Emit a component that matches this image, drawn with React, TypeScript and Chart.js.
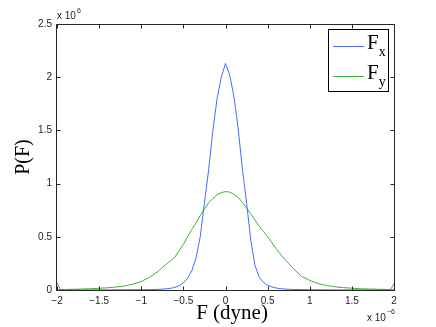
import React, { useEffect, useRef } from "react";
import { Chart, registerables } from "chart.js";

Chart.register(...registerables);

// F values (units of 1e-6 dyne)
const forceValues = [
  -2, -1.96, -1.9, -1.8, -1.7, -1.6, -1.5, -1.4, -1.3, -1.2, -1.1, -1.0, -0.9, -0.8,
  -0.75, -0.7, -0.65, -0.6, -0.55, -0.5, -0.45, -0.4, -0.35, -0.3, -0.25, -0.2, -0.15, -0.1, -0.05,
  0,
  0.05, 0.1, 0.15, 0.2, 0.25, 0.3, 0.35, 0.4, 0.45, 0.5, 0.55, 0.6, 0.65, 0.7, 0.75,
  0.8, 0.9, 1.0, 1.1, 1.2, 1.3, 1.4, 1.5, 1.6, 1.7, 1.8, 1.9, 1.96, 2,
];

// P(Fx) (units of 1e6)
const fxValues = [
  0.002, 0.001, 0.001, 0.001, 0.001, 0.001, 0.001, 0.001, 0.002, 0.002, 0.003, 0.003, 0.004, 0.006,
  0.008, 0.011, 0.016, 0.025, 0.04, 0.066, 0.11, 0.18, 0.3, 0.5, 0.82, 1.13, 1.5, 1.8, 2.0,
  2.13,
  2.02, 1.82, 1.52, 1.14, 0.82, 0.47, 0.23, 0.12, 0.072, 0.045, 0.029, 0.019, 0.013, 0.009, 0.007,
  0.005, 0.004, 0.003, 0.002, 0.002, 0.001, 0.001, 0.001, 0.001, 0.001, 0.001, 0.001, 0.001, 0.002,
];

// P(Fy) (units of 1e6)
const fyValues = [
  0.07, 0.004, 0.005, 0.007, 0.009, 0.012, 0.016, 0.021, 0.028, 0.038, 0.055, 0.08, 0.12, 0.175,
  0.21, 0.245, 0.275, 0.31, 0.37, 0.43, 0.5, 0.57, 0.63, 0.7, 0.76, 0.82, 0.86, 0.895, 0.915,
  0.925,
  0.92, 0.9, 0.87, 0.825, 0.77, 0.715, 0.66, 0.6, 0.55, 0.5, 0.445, 0.39, 0.34, 0.29, 0.25,
  0.205, 0.13, 0.09, 0.06, 0.042, 0.03, 0.022, 0.017, 0.012, 0.009, 0.007, 0.005, 0.004, 0.06,
];

const xTicks = [-2, -1.5, -1, -0.5, 0, 0.5, 1, 1.5, 2];
const xTickLabels = ["\u22122", "\u22121.5", "\u22121", "\u22120.5", "0", "0.5", "1", "1.5", "2"];
const yTicks = [0, 0.5, 1, 1.5, 2, 2.5];
const yTickLabels = ["0", "0.5", "1", "1.5", "2", "2.5"];

const seriesSubscripts = ["x", "y"];
const seriesColors = ["rgb(75,105,255)", "rgb(60,178,50)"];
const xExponent = "\u22126";
const yExponent = "6";
const xTitle = "F (dyne)";
const yTitle = "P(F)";

const SANS = '"Liberation Sans", Arial, sans-serif';
const SERIF = '"Liberation Serif", "Times New Roman", serif';
const AXIS = "#262626";

const decorPlugin = {
  id: "matlabDecor",
  afterDraw(chart: any) {
    const { ctx, chartArea: a, scales } = chart;
    const xs = scales.x;
    const ys = scales.y;
    ctx.save();
    ctx.strokeStyle = AXIS;
    ctx.lineWidth = 1;
    const L = Math.round(a.left) - 0.5;
    const R = Math.round(a.right) + 0.5;
    const T = Math.round(a.top) + 0.5;
    const B = Math.round(a.bottom) + 0.5;
    ctx.beginPath();
    ctx.rect(L, T, R - L, B - T);
    ctx.stroke();
    const tl = 4;
    ctx.beginPath();
    for (const v of xTicks) {
      const px = Math.round(xs.getPixelForValue(v)) + 0.5;
      ctx.moveTo(px, B);
      ctx.lineTo(px, B - tl);
      ctx.moveTo(px, T);
      ctx.lineTo(px, T + tl);
    }
    for (const v of yTicks) {
      const py = Math.round(ys.getPixelForValue(v)) + 0.5;
      ctx.moveTo(L, py);
      ctx.lineTo(L + tl, py);
      ctx.moveTo(R, py);
      ctx.lineTo(R - tl, py);
    }
    ctx.stroke();

    // exponents
    ctx.fillStyle = "#222";
    ctx.textAlign = "left";
    ctx.textBaseline = "alphabetic";
    ctx.font = `10px ${SANS}`;
    const base = "x 10";
    const bw = ctx.measureText(base).width;
    ctx.fillText(base, 57, 19);
    ctx.font = `7px ${SANS}`;
    ctx.fillText(yExponent, 57 + bw + 1, 13);
    ctx.font = `10px ${SANS}`;
    ctx.fillText(base, 367, 321);
    ctx.font = `7px ${SANS}`;
    ctx.fillText(xExponent, 367 + bw + 1, 314);

    // axis titles
    ctx.fillStyle = "#000";
    ctx.font = `21px ${SERIF}`;
    ctx.textAlign = "center";
    ctx.fillText(xTitle, 232, 319);
    ctx.save();
    ctx.translate(29, 157);
    ctx.rotate(-Math.PI / 2);
    ctx.font = `20px ${SERIF}`;
    ctx.fillText(yTitle, 0, 0);
    ctx.restore();

    // legend
    const lx = 328.5, ly = 29.5, lw = 60, lh = 62;
    ctx.fillStyle = "#fff";
    ctx.fillRect(lx, ly, lw, lh);
    ctx.strokeStyle = "#000";
    ctx.strokeRect(lx, ly, lw, lh);
    const rows = [46.5, 76.5];
    chart.data.datasets.forEach((ds: any, i: number) => {
      const y = rows[i];
      ctx.strokeStyle = ds.borderColor;
      ctx.lineWidth = 1;
      ctx.beginPath();
      ctx.moveTo(333, y);
      ctx.lineTo(364, y);
      ctx.stroke();
      ctx.fillStyle = "#000";
      ctx.textAlign = "left";
      ctx.font = `21px ${SERIF}`;
      ctx.fillText("F", 367, y + 2.5);
      const fw = ctx.measureText("F").width;
      ctx.font = `14px ${SERIF}`;
      ctx.fillText(seriesSubscripts[i], 367 + fw, y + 9.5);
    });
    ctx.restore();
  },
};

export default function App() {
  const ref = useRef<HTMLCanvasElement | null>(null);
  useEffect(() => {
    if (!ref.current) return;
    const mk = (vals: number[]) => forceValues.map((x, i) => ({ x, y: vals[i] }));
    const chart = new Chart(ref.current, {
      type: "line",
      data: {
        datasets: [
          { label: "Fx", data: mk(fxValues), borderColor: seriesColors[0], borderWidth: 1, pointRadius: 0, tension: 0, fill: false },
          { label: "Fy", data: mk(fyValues), borderColor: seriesColors[1], borderWidth: 1, pointRadius: 0, tension: 0, fill: false },
        ],
      },
      options: {
        animation: false,
        responsive: false,
        devicePixelRatio: 1,
        layout: { padding: { left: 0, right: 42, top: 24, bottom: 0 } },
        plugins: { legend: { display: false }, tooltip: { enabled: false } },
        scales: {
          x: {
            type: "linear",
            min: -2,
            max: 2,
            grid: { display: false, drawTicks: false },
            border: { display: false },
            afterBuildTicks: (s: any) => { s.ticks = xTicks.map((v) => ({ value: v })); },
            afterFit: (s: any) => { s.height = 37; },
            ticks: {
              autoSkip: false,
              maxRotation: 0,
              padding: 5,
              color: "#222",
              font: { family: SANS, size: 10 },
              callback: (v: any) => xTickLabels[xTicks.indexOf(Number(v))],
            },
          },
          y: {
            type: "linear",
            min: 0,
            max: 2.5,
            grid: { display: false, drawTicks: false },
            border: { display: false },
            afterBuildTicks: (s: any) => { s.ticks = yTicks.map((v) => ({ value: v })); },
            afterFit: (s: any) => { s.width = 57; },
            ticks: {
              autoSkip: false,
              padding: 5,
              color: "#222",
              font: { family: SANS, size: 10 },
              callback: (v: any) => yTickLabels[yTicks.indexOf(Number(v))],
            },
          },
        },
      },
      plugins: [decorPlugin],
    });
    return () => chart.destroy();
  }, []);
  return (
    <div style={{ position: "absolute", left: 0, top: 0, width: 436, height: 327, background: "#fff" }}>
      <canvas ref={ref} width={436} height={327} />
    </div>
  );
}
